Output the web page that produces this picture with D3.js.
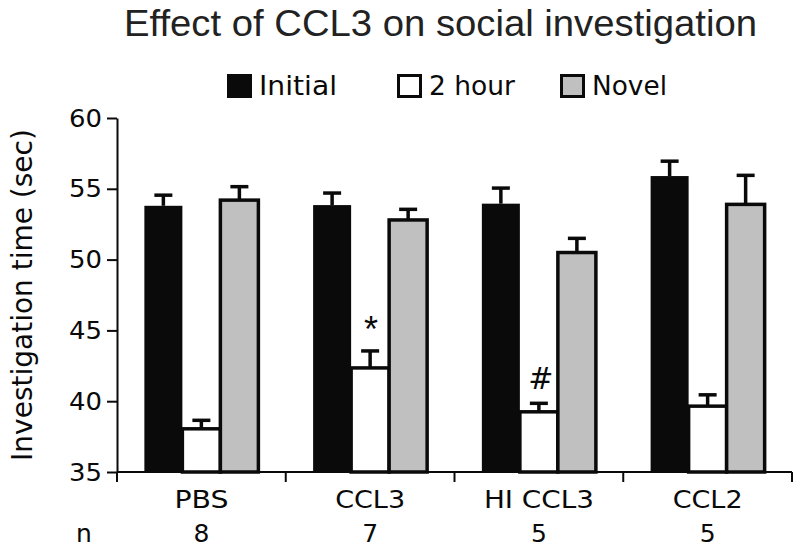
<!DOCTYPE html>
<html><head><meta charset="utf-8">
<script src="https://cdn.jsdelivr.net/npm/d3@7"></script>
<style>body{margin:0;background:#fff}svg{display:block}</style>
</head><body>
<svg id="c" width="800" height="551"></svg>
<script>
const groups = ["PBS", "CCL3", "HI CCL3", "CCL2"];
const nCounts = ["8", "7", "5", "5"];
const seriesNames = ["Initial", "2 hour", "Novel"];
const initialMean = [53.8, 53.85, 53.95, 55.9];
const initialErr  = [0.75, 0.85, 1.1, 1.05];
const twoHourMean = [38.05, 42.35, 39.25, 39.65];
const twoHourErr  = [0.6, 1.2, 0.6, 0.8];
const novelMean   = [54.2, 52.8, 50.5, 53.9];
const novelErr    = [0.95, 0.75, 1.0, 2.05];
const marks = [{group: "CCL3", series: "2 hour", sym: "*"}, {group: "HI CCL3", series: "2 hour", sym: "#"}];
const yTicks = [35, 40, 45, 50, 55, 60];

const fills = {"Initial": "#0a0a0a", "2 hour": "#ffffff", "Novel": "#c0c0c0"};
const means = {"Initial": initialMean, "2 hour": twoHourMean, "Novel": novelMean};
const errs = {"Initial": initialErr, "2 hour": twoHourErr, "Novel": novelErr};

const svg = d3.select("#c");
const plotLeft = 117, plotRight = 792, plotTop = 118, plotBottom = 472;
const y = d3.scaleLinear().domain([35, 60]).range([plotBottom, plotTop]);
const x0 = d3.scaleBand().domain(groups).range([plotLeft, plotRight]).padding(0);
const x1 = d3.scaleBand().domain(seriesNames).range([0, x0.bandwidth()]).paddingInner(0).paddingOuter(0.72);

const data = [];
groups.forEach((g, i) => seriesNames.forEach(s => data.push({g, s, v: means[s][i], e: errs[s][i]})));

// error bars
const eb = svg.append("g").attr("stroke", "#0a0a0a").attr("stroke-width", 3.5);
data.forEach(d => {
  const cx = x0(d.g) + x1(d.s) + x1.bandwidth() / 2;
  eb.append("line").attr("x1", cx).attr("x2", cx).attr("y1", y(d.v)).attr("y2", y(d.v + d.e));
  eb.append("line").attr("x1", cx - 9).attr("x2", cx + 9).attr("y1", y(d.v + d.e)).attr("y2", y(d.v + d.e));
});

// bars
svg.append("g").selectAll("rect").data(data).join("rect")
  .attr("x", d => x0(d.g) + x1(d.s))
  .attr("y", d => y(d.v))
  .attr("width", x1.bandwidth())
  .attr("height", d => y(35) - y(d.v))
  .attr("fill", d => fills[d.s])
  .attr("stroke", "#0a0a0a")
  .attr("stroke-width", d => d.s === "Initial" ? 0 : 3.5);

// y axis
const yAxis = svg.append("g").attr("transform", `translate(${plotLeft},0)`)
  .call(d3.axisLeft(y).tickValues(yTicks).tickSize(10).tickSizeOuter(0).tickPadding(5));
yAxis.select(".domain").attr("stroke", "#0a0a0a").attr("stroke-width", 2);
yAxis.selectAll(".tick line").attr("stroke", "#0a0a0a").attr("stroke-width", 2);
yAxis.selectAll(".tick text").attr("font-family", "DejaVu Sans").attr("font-size", 25)
  .attr("fill", "#0a0a0a").attr("textLength", 33).attr("lengthAdjust", "spacingAndGlyphs");

// x axis line + boundary ticks
const xa = svg.append("g").attr("stroke", "#0a0a0a").attr("stroke-width", 2);
xa.append("line").attr("x1", plotLeft).attr("x2", plotRight).attr("y1", y(35)).attr("y2", y(35));
const bounds = groups.map(g => x0(g)).concat([x0(groups[groups.length - 1]) + x0.bandwidth()]);
bounds.forEach(b => xa.append("line").attr("x1", b).attr("x2", b).attr("y1", y(35)).attr("y2", y(35) + 10));

// category labels and n
const catWidths = [54, 70, 110, 70];
groups.forEach((g, i) => {
  const cx = x0(g) + x0.bandwidth() / 2;
  svg.append("text").attr("x", cx - catWidths[i] / 2).attr("y", 508)
    .attr("textLength", catWidths[i]).attr("lengthAdjust", "spacingAndGlyphs")
    .attr("font-family", "DejaVu Sans").attr("font-size", 24).attr("fill", "#0a0a0a").text(g);
  svg.append("text").attr("x", cx).attr("y", 542).attr("text-anchor", "middle")
    .attr("font-family", "DejaVu Sans").attr("font-size", 25).attr("fill", "#0a0a0a").text(nCounts[i]);
});
svg.append("text").attr("x", 84).attr("y", 542).attr("text-anchor", "middle")
  .attr("font-family", "DejaVu Sans").attr("font-size", 25).attr("fill", "#0a0a0a").text("n");

// significance marks
marks.forEach(m => {
  const i = groups.indexOf(m.group);
  const cx = x0(m.group) + x1(m.series) + x1.bandwidth() / 2;
  const capY = y(means[m.series][i] + errs[m.series][i]);
  svg.append("text").attr("x", cx + (m.sym === "*" ? 1 : 2)).attr("y", capY - (m.sym === "*" ? 9 : 14))
    .attr("text-anchor", "middle")
    .attr("font-family", m.sym === "*" ? "Liberation Sans" : "DejaVu Sans")
    .attr("font-size", m.sym === "*" ? 36 : 30).attr("fill", "#0a0a0a").text(m.sym);
});

// y label
svg.append("text").attr("transform", "translate(32,295) rotate(-90)").attr("text-anchor", "middle")
  .attr("font-family", "DejaVu Sans").attr("font-size", 28).attr("fill", "#0a0a0a")
  .text("Investigation time (sec)");

// title
svg.append("text").attr("x", 124).attr("y", 36)
  .attr("textLength", 633).attr("lengthAdjust", "spacingAndGlyphs")
  .attr("font-family", "Liberation Sans").attr("font-size", 36).attr("fill", "#222")
  .text("Effect of CCL3 on social investigation");

// legend
const legendX = [227, 397, 560];
const legendW = [78, 86, 75];
seriesNames.forEach((s, i) => {
  const lg = svg.append("g").attr("transform", `translate(${legendX[i]},74)`);
  lg.append("rect").attr("x", s === "Initial" ? 0 : 1.5).attr("y", s === "Initial" ? 0 : 1.5)
    .attr("width", s === "Initial" ? 25 : 22).attr("height", s === "Initial" ? 24 : 21)
    .attr("fill", fills[s]).attr("stroke", "#0a0a0a").attr("stroke-width", s === "Initial" ? 0 : 3);
  lg.append("text").attr("x", 32).attr("y", 21).attr("font-family", "DejaVu Sans")
    .attr("textLength", legendW[i]).attr("lengthAdjust", "spacingAndGlyphs")
    .attr("font-size", 26).attr("fill", "#0a0a0a").text(s);
});
</script>
</body></html>
